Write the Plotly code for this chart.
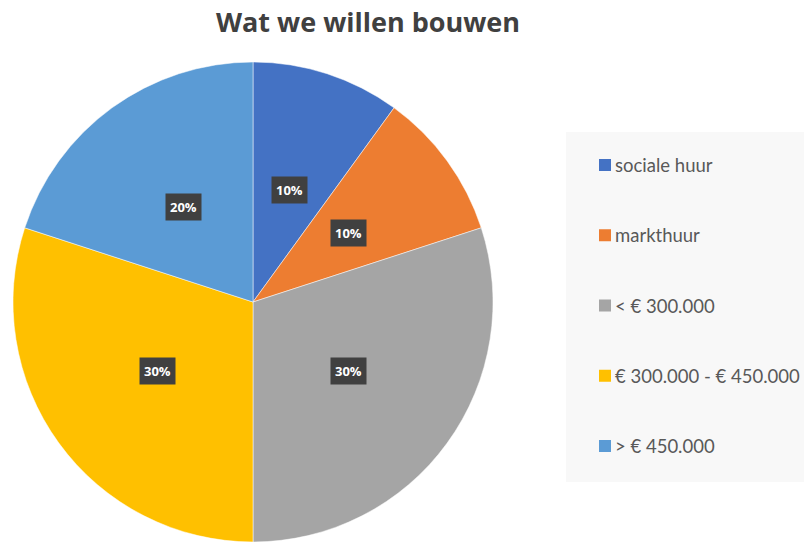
import math
import plotly.graph_objects as go

categories = ["sociale huur", "markthuur", "< € 300.000", "€ 300.000 - € 450.000", "> € 450.000"]
values = [10, 10, 30, 30, 20]
colors = ["#4472C4", "#ED7D31", "#A5A5A5", "#FFC000", "#5B9BD5"]
title = "Wat we willen bouwen"

W, H = 804, 550
cx_px, cy_px, R_px = 253, 302, 240
dom_x = [(cx_px - R_px) / W, (cx_px + R_px) / W]
dom_y = [1 - (cy_px + R_px) / H, 1 - (cy_px - R_px) / H]

fig = go.Figure(go.Pie(
    labels=categories, values=values, sort=False, direction="clockwise", rotation=0,
    marker=dict(colors=colors, line=dict(color="white", width=0.5)),
    textinfo="none", hoverinfo="label+percent", showlegend=False,
    domain=dict(x=dom_x, y=dom_y),
))

annotations = []
shapes = [dict(type="rect", xref="paper", yref="paper", x0=566 / W, x1=1.0,
               y0=1 - 482 / H, y1=1 - 132 / H, fillcolor="#F8F8F8",
               line=dict(width=0), layer="below")]
total = sum(values)
cum = 0
for v in values:
    mid = (cum + v / 2) / total * 2 * math.pi
    cum += v
    r = 0.49 * R_px
    xp = cx_px + r * math.sin(mid)
    yp = cy_px - r * math.cos(mid)
    annotations.append(dict(
        x=xp / W, y=1 - yp / H, xref="paper", yref="paper", showarrow=False,
        xanchor="center", yanchor="middle",
        text="<b>%d%%</b>" % round(100 * v / total),
        font=dict(family="Open Sans", size=13, color="white"),
        bgcolor="#404040", borderpad=4,
    ))

# custom legend
leg_top = 165
leg_step = 70.25
for i, (c, col) in enumerate(zip(categories, colors)):
    yp = leg_top + i * leg_step
    shapes.append(dict(type="rect", xref="paper", yref="paper",
                       x0=599 / W, x1=611 / W, y0=1 - (yp + 6) / H, y1=1 - (yp - 6) / H,
                       fillcolor=col, line=dict(width=0)))
    annotations.append(dict(
        x=613 / W, y=1 - yp / H, xref="paper", yref="paper", showarrow=False,
        xanchor="left", yanchor="middle",
        text=c,
        font=dict(family="Lato", size=18.5, color="#595959"),
    ))

fig.update_layout(
    width=W, height=H,
    margin=dict(l=0, r=0, t=0, b=0),
    paper_bgcolor="white",
    title=dict(text="<b>%s</b>" % title, x=368 / W, xanchor="center", y=1 - 23 / H, yanchor="middle",
               font=dict(family="Open Sans", size=27, color="#404040")),
    annotations=annotations,
    shapes=shapes,
)

fig.write_html("out.html")
